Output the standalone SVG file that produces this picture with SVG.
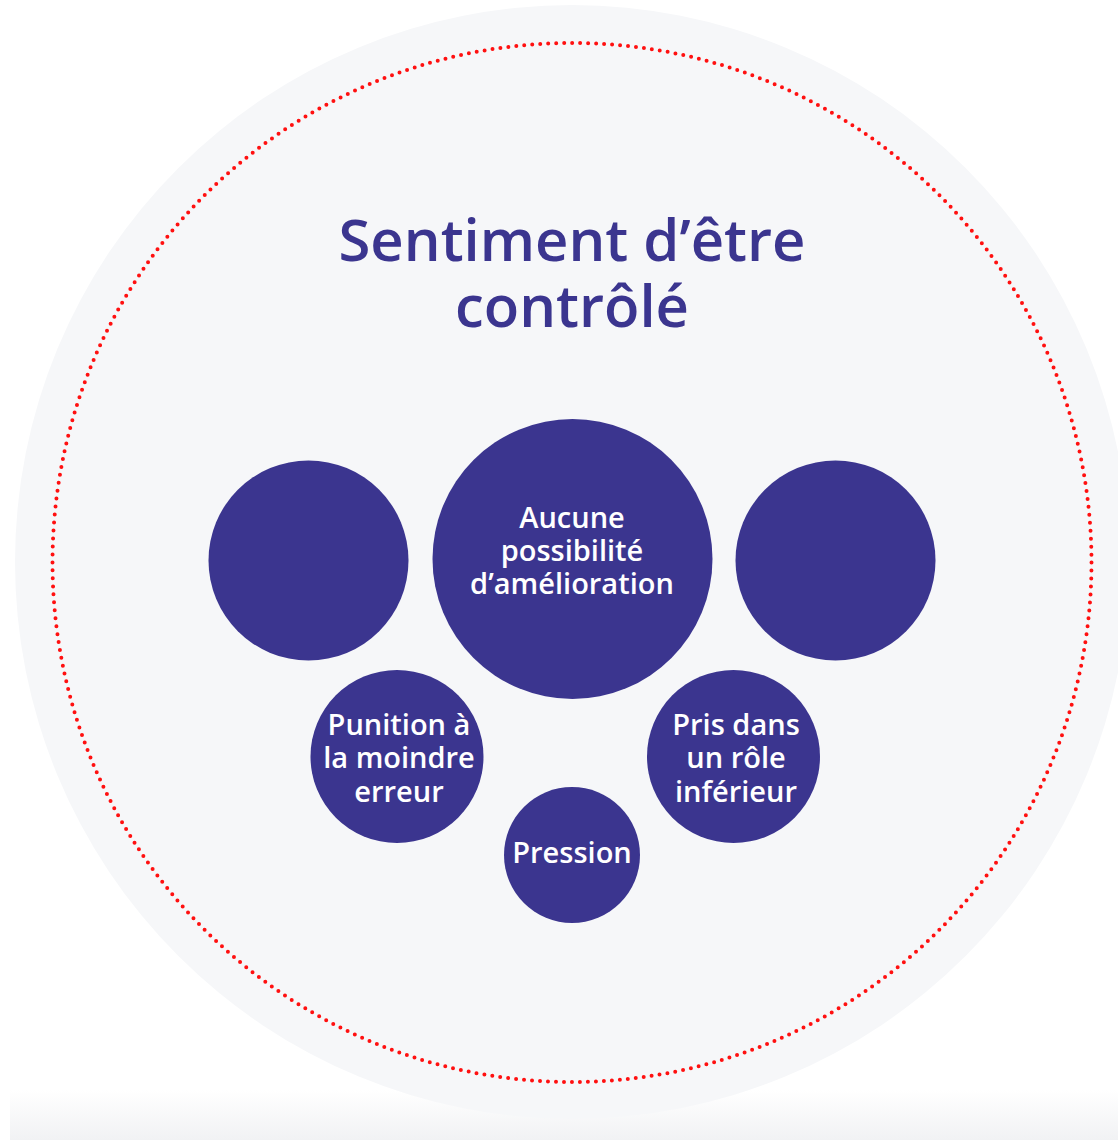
<svg xmlns="http://www.w3.org/2000/svg" width="1118" height="1140" viewBox="0 0 1118 1140">
  <defs>
    <linearGradient id="band" x1="0" y1="0" x2="0" y2="1">
      <stop offset="0" stop-color="#ffffff"/>
      <stop offset="1" stop-color="#f1f2f4"/>
    </linearGradient>
  </defs>
  <style>
    .bubble { fill: #3b358f; }
    .label { font-family: "Open Sans", "Noto Sans", "Liberation Sans", sans-serif; font-weight: 600; font-size: 29px; fill: #ffffff; text-anchor: middle; }
    .title { font-family: "Open Sans", "Noto Sans", "Liberation Sans", sans-serif; font-weight: 600; font-size: 58px; fill: #3b358f; text-anchor: middle; }
  </style>
  <rect width="1118" height="1140" fill="#ffffff"/>
  <rect x="10" y="1090" width="1108" height="50" fill="url(#band)"/>
  <g id="background">
    <circle cx="572" cy="562" r="557" fill="#f6f7f9"/>
    <circle cx="572" cy="562.5" r="519.5" fill="none" stroke="#ff1010" stroke-width="4" stroke-linecap="round" stroke-dasharray="0 8"/>
  </g>
  <g id="title">
    <text class="title" x="572" y="261">Sentiment d’être</text>
    <text class="title" x="572" y="327">contrôlé</text>
  </g>
  <g id="connectors"/>
  <g id="node-left">
    <circle class="bubble" cx="308.5" cy="560.5" r="100"/>
  </g>
  <g id="node-right">
    <circle class="bubble" cx="835.5" cy="560.5" r="100"/>
  </g>
  <g id="node-aucune">
    <circle class="bubble" cx="572.5" cy="559" r="140"/>
    <text class="label" x="572" y="527.5">Aucune</text>
    <text class="label" x="572" y="561">possibilité</text>
    <text class="label" x="572" y="594">d’amélioration</text>
  </g>
  <g id="node-punition">
    <circle class="bubble" cx="397" cy="756.5" r="86.5"/>
    <text class="label" x="399" y="735">Punition à</text>
    <text class="label" x="399" y="768">la moindre</text>
    <text class="label" x="399" y="801.5">erreur</text>
  </g>
  <g id="node-pris">
    <circle class="bubble" cx="733.5" cy="756.5" r="86.5"/>
    <text class="label" x="736" y="735">Pris dans</text>
    <text class="label" x="736" y="768">un rôle</text>
    <text class="label" x="736" y="801.5">inférieur</text>
  </g>
  <g id="node-pression">
    <circle class="bubble" cx="572" cy="855" r="68"/>
    <text class="label" x="572" y="863">Pression</text>
  </g>
</svg>
